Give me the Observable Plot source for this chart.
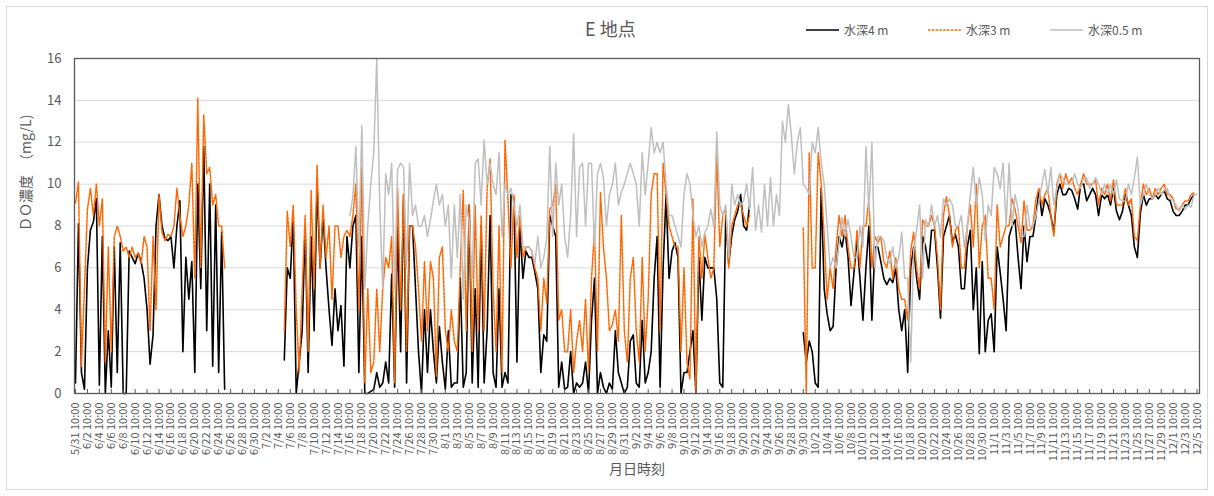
<!DOCTYPE html>
<html lang="ja">
<head>
<meta charset="utf-8">
<script src="https://cdn.jsdelivr.net/npm/d3@7"></script>
<script src="https://cdn.jsdelivr.net/npm/@observablehq/plot@0.6"></script>
<style>
  body { margin: 0; background: #fff; font-family: "Noto Sans CJK JP", "Noto Sans", sans-serif; }
  #chart { position: relative; width: 1214px; height: 496px; overflow: hidden; }
  #border { position: absolute; left: 6px; top: 6px; width: 1200px; height: 482px; border: 1px solid #d9d9d9; pointer-events: none; }
  #head { position: relative; height: 45px; }
  #title { position: absolute; left: 585px; top: 15px; font-size: 18px; line-height: 26px; color: #595959; white-space: nowrap; }
  .key { position: absolute; top: 22px; display: flex; align-items: center; font-size: 12px; line-height: 16px; color: #595959; white-space: nowrap; }
  .key svg { margin-right: 5px; }
  #plot svg { display: block; }
</style>
</head>
<body>
<div id="chart">
  <div id="border"></div>
  <div id="head">
    <div id="title">E 地点</div>
  </div>
  <div id="plot"></div>
</div>
<script>
// DO concentration at station E, sampled every 12 hours from 5/31 10:00 to 12/5 10:00
const startTime = Date.UTC(2019, 4, 31, 10);
const stepHours = 12;
const seriesNames = ["水深4 m", "水深3 m", "水深0.5 m"];
const yTicks = [0, 2, 4, 6, 8, 10, 12, 14, 16];
const yLabel = "ＤＯ濃度　（mg/L)";
const xLabel = "月日時刻";

// 水深4 m
const depth4m = [
  0.5, 8.1, 1, 0.2, 6, 7.8, 8.2, 9.3, 0.4, 7.5, 0, 3, 0.3, 7, 1, 7.2, 0, 0, 6.8, 6.5,
  6.2, 6.7, 6.3, 5.5, 4, 1.4, 2.8, 8, 9.5, 8, 7.4, 7.3, 7.5, 6, 8, 9.2, 2, 6.5, 4.5, 6.3,
  1, 10, 5, 11.8, 3, 10, 1.3, 9, 1, 7.7, 0.2, null, null, null, null, null, null, null, null, null,
  null, null, null, null, null, null, null, null, null, null, 1.6, 6, 5.5, 8.5, 0, 1.5, 3, 8, 1, 7.5,
  3, 10, 6, 8.5, 6, 4, 2.3, 5, 3, 4.2, 1.3, 7.5, 6, 8, 8.5, 1, 7.5, 0, 0, 0.1,
  0.2, 1, 0.3, 0.5, 1.5, 0.5, 5.7, 0.3, 8, 2, 9.5, 0.5, 8, 8, 5, 2, 0, 4, 1, 4,
  2, 0.5, 3.2, 1.5, 0.2, 3, 0.3, 0.5, 0.5, 5.5, 0.3, 1, 9, 0.5, 5, 0.3, 8, 0.5, 3, 8.5,
  1, 0.3, 5, 0.3, 1, 0.5, 9.5, 9.3, 1.5, 8, 5.5, 6.8, 6.5, 6.5, 5.8, 5, 1, 2.8, 2.5, 8.5,
  8, 7.5, 0.3, 1.5, 0.2, 0.3, 2, 0, 0.5, 0.3, 0.5, 1.5, 0, 3.5, 5.5, 0, 1, 0.3, 0, 0.5,
  0.2, 3, 1, 0.5, 0, 0.3, 2.5, 2.8, 0.5, 0.3, 3.5, 0.5, 1, 2, 5.5, 7.5, 0.3, 6, 9.5, 5.5,
  6.8, 7.2, 6.5, 0, 1, 1, 2, 3, 0, 6.5, 3.5, 6.5, 6, 6, 6, 4.5, 0.5, 0.3, 8.5, 6.2,
  7.5, 8.3, 8.7, 9.5, 8, 7.8, 9, null, null, null, null, null, null, null, null, null, null, null, null,
  null, null, null, null, null, 2.9, 1.5, 2.5, 2, 0.5, 0.3, 9.8, 5, 3.8, 3, 3.2, 6, 7.5, 7, 7.8,
  6.5, 4.2, 5.8, 7.3, 5.5, 3.5, 6, 8, 3.5, 7, 7, 6.3, 5.5, 5.2, 5.5, 5.3, 6, 4, 3, 4,
  1, 6, 7, 5.5, 4.5, 7.5, 7, 6, 7.8, 7.8, 6, 3.6, 7.5, 8, 8.5, 7.2, 7.6, 7, 5, 5,
  7, 7.8, 4, 6, 1.9, 6.3, 2, 3.5, 3.8, 2, 7, 5.8, 4.5, 3, 7.5, 8, 8.3, 6.5, 5, 8,
  6.3, 7.5, 7.5, 8.5, 9.7, 8.5, 9.3, 9, 8.5, 7.7, 9.5, 10, 9.5, 9.5, 9.8, 9.7, 9.3, 8.8, 10, 10,
  9.2, 9.5, 9.8, 9.5, 8.5, 9.5, 9.3, 9.5, 9, 9.8, 8.7, 8.3, 8.7, 9.5, 9, 8.5, 7, 6.5, 8.6, 9.5,
  9, 9.3, 9.3, 9.5, 9.3, 9.5, 9.7, 9.3, 9.2, 8.7, 8.5, 8.5, 8.7, 9, 9, 9.3, 9.5
];

// 水深3 m
const depth3m = [
  9.1, 10.1, 1.3, 5, 8.8, 9.8, 8.5, 10, 8, 9.3, 1.5, 7, 2, 7.5, 8, 7.5, 6.8, 7, 6.5, 7,
  6.5, 6.7, 6.2, 7.5, 7, 3, 7.5, 4, 9.5, 7.7, 7.3, 7.6, 7.5, 8, 9.8, 8.5, 7.5, 8, 9, 11,
  5.5, 14.1, 6, 13.3, 10.5, 10.8, 9, 9.5, 8, 8, 6, null, null, null, null, null, null, null, null, null,
  null, null, null, null, null, null, null, null, null, null, 3, 8.7, 7, 9, 4, 1, 5, 8.5, 2, 9.7,
  5, 10.9, 6, 9, 6.5, 8, 4.5, 8, 8, 6.5, 7.5, 7.8, 7.5, 8.5, 10, 4, 10.8, 0.5, 5, 1,
  1.5, 5, 2, 5, 6.5, 6, 7.5, 0.5, 9.8, 4, 9.5, 2, 8, 8, 7, 5, 2.5, 6.3, 3, 6.3,
  5.5, 0.8, 6.5, 7, 3, 2, 4, 2.5, 2, 6, 9.7, 3, 9, 2, 9, 3, 8.5, 3, 9.8, 11.2,
  5, 2, 8, 1, 12.1, 9.2, 6, 9.5, 6.5, 8.5, 6.5, 7, 7, 6.8, 6, 5.5, 3, 5.5, 4.3, 8.8,
  9, 10, 3.5, 4, 2, 2, 4, 1, 2.5, 3.5, 2, 4.5, 1, 5.5, 7.8, 2, 9.6, 7, 5.5, 3,
  3.3, 4, 2.5, 8.5, 3, 1.5, 5.5, 6.5, 3, 1.5, 6.5, 2, 4.5, 9.5, 10.5, 10.5, 3, 11, 9.5, 8,
  7.5, 7, 7, 2, 6, 1.5, 0.7, 9.3, 0, 7.5, 5.5, 7.6, 6.5, 5.5, 6, 11.5, 7, 8.5, 8.8, 6,
  8, 8.5, 9, 9, 8.5, 8, 8.5, null, null, null, null, null, null, null, null, null, null, null, null,
  null, null, null, null, null, 7.9, 0, 11.5, 6, 6, 11.5, 10, 7.5, 4.5, 6, 5, 7, 8.5, 7.5, 8.5,
  7, 6, 6, 7.8, 6, 8, 8, 9.3, 6, 7.5, 7.2, 7.5, 6.3, 6, 6.8, 5.5, 6.5, 5, 4.5, 4.5,
  3.5, 6.8, 7.7, 6, 5, 8.3, 8, 8, 8.5, 8, 6.5, 4, 8.5, 9.4, 8.5, 7, 7.8, 8, 6, 6,
  8, 9, 7, 10, 6, 8, 8.5, 5.5, 5.5, 4, 9, 7, 7.5, 8, 8, 9.3, 8.8, 8, 7.2, 9.2,
  7.8, 7.8, 8, 9.3, 9.8, 9, 9.5, 9.8, 8.5, 7.5, 10, 10.5, 9.8, 10.5, 10, 10.3, 9.8, 9.5, 10, 10.5,
  10, 10, 10, 10.2, 9, 9.8, 9.5, 10, 9.2, 10.2, 9, 9, 9, 9.8, 9, 9.3, 7.5, 7.3, 9, 10,
  9.5, 9.8, 9.3, 9.8, 9.5, 9.8, 10, 9.5, 9.5, 9.3, 8.8, 8.8, 9, 9.2, 9.2, 9.5, 9.6
];

// 水深0.5 m
const depth05m = [
  null, null, null, null, null, null, null, null, null, null, null, null, null, null, null, null, null, null, null, null,
  null, null, null, null, null, null, null, null, null, null, null, null, null, null, null, null, null, null, null, null,
  null, null, null, null, null, null, null, null, null, null, null, null, null, null, null, null, null, null, null, null,
  null, null, null, null, null, null, null, null, null, null, null, null, null, null, null, null, null, null, null, null,
  null, null, null, null, null, null, null, null, null, null, null, null, 8.5, 9.4, 11.8, 7, 12.8, 5, 8, 10,
  11.5, 16, 9, 5, 10.5, 9.5, 11, 5, 10.7, 11, 10.8, 6, 11, 8.5, 9, 8, 8, 8.5, 7.5, 8.3,
  9.2, 10, 9, 9.5, 8, 9, 5.5, 9, 6.5, 9.5, 4.5, 9, 8.2, 5.5, 11, 11.2, 9, 12.1, 10, 11,
  10, 9.5, 11.5, 7.5, 10, 9.5, 9.8, 9, 8, 9, 7, 7, 7, 6.8, 6.2, 7.5, 6, 6.5, 7.4, 11.8,
  7.5, 11, 9, 10, 7.5, 6.5, 8.5, 12.4, 7.5, 10.8, 11, 8, 11, 11, 7, 10.5, 11, 10.3, 8, 9.5,
  10, 11, 9, 9.6, 10, 10.5, 11, 10.5, 10, 8, 11.5, 9.5, 11, 12.7, 11.5, 12, 11.5, 12, 10, 8.5,
  8.5, 8, 7.5, 7, 9.5, 10.5, 10, 8.5, 7.5, 8, 7, 7.7, 8, 8.8, 8, 12.5, 9, 8.5, 9, 6.5,
  10, 9, 9.5, 9, 9.2, 10, 8.8, 10.8, 7.8, 9, 7.7, 10, 8, 10.3, 8, 9.5, 8.5, 13, 12, 13.8,
  12.3, 10.5, 12, 12.7, 10, 9.8, 9.5, 12, 11.5, 12.7, 11, 10, 8, 6, 6.5, 6, 7.2, 8.4, 7.5, 8.3,
  7.5, 6.5, 6.5, 8, 7, 11.8, 8.7, 12, 6, 7.5, 7.5, 7.3, 6.5, 6.2, 7, 6, 6.5, 7.7, 5.5, 5.5,
  1.5, 6.8, 7.8, 9, 5.5, 8.3, 8, 9, 8, 8.5, 7.5, 9.3, 9, 9.3, 9, 8, 8, 8.5, 7, 8,
  9.5, 10.8, 9, 10.3, 9.5, 7.3, 9, 8.5, 10.8, 10.5, 9.8, 11, 8, 11, 8, 9.5, 8.8, 7.5, 7.5, 9,
  8, 8, 8.5, 9.2, 10, 10.7, 9.5, 10.8, 9, 9.8, 10.5, 10.3, 10, 10, 10, 10.5, 10, 9.8, 10.3, 10.3,
  9.8, 10, 10.3, 10, 9.5, 10, 9.5, 10, 9.5, 10.2, 9.3, 9.2, 9.2, 10, 9.5, 10.3, 11.3, 9, 9.5, 10,
  9.5, 9.3, 9.5, 9.8, 9.5, 9.7, 9.8, 9.3, 9.2, 9, 8.7, 9, 8.8, 9, 8.9, 9.5, 9.5
];

// line styles for each depth, in drawing order
const styles = [
  {stroke: "#000000", strokeWidth: 1.6, dash: null},
  {stroke: "#ff6600", strokeWidth: 1.5, dash: "2.5,1.3"},
  {stroke: "#bfbfbf", strokeWidth: 1.5, dash: null}
];
const values = [depth4m, depth3m, depth05m];

const HOUR = 3600 * 1000;
const toRows = arr => arr.map((v, i) => ({t: new Date(startTime + i * stepHours * HOUR), v: v == null ? NaN : v}));

// category labels every 2 days at 10:00
const xTicks = d3.range(0, 189, 2).map(d => new Date(startTime + d * 24 * HOUR));
const fmt = d3.utcFormat("%-m/%-d %H:%M");

const fontFamily = '"Noto Sans CJK JP", "Noto Sans", sans-serif';

const chart = Plot.plot({
  width: 1214,
  height: 451,
  marginLeft: 74,
  marginRight: 15,
  marginTop: 13,
  marginBottom: 103,
  style: {fontFamily, fontSize: "11px", color: "#595959", background: "transparent", overflow: "visible"},
  x: {type: "utc", domain: [new Date(startTime - 4 * HOUR), new Date(startTime + 188 * 24 * HOUR + 10 * HOUR)]},
  y: {domain: [0, 16]},
  marks: [
    Plot.gridY(yTicks.filter(t => t > 0 && t < 16), {stroke: "#d9d9d9", strokeOpacity: 1}),
    ...values.map((arr, k) => Plot.line(toRows(arr), {
      x: "t", y: "v",
      stroke: styles[k].stroke,
      strokeWidth: styles[k].strokeWidth,
      strokeDasharray: styles[k].dash,
      strokeLinejoin: "round",
      curve: "linear"
    })),
    Plot.frame({stroke: "#595959", strokeWidth: 1.3}),
    Plot.ruleX(xTicks, {x: d => d, y1: 0, y2: 0, insetTop: -4, stroke: "#595959"}),
    Plot.axisY(yTicks, {tickSize: 0, tickPadding: 13, fontSize: 13, label: null}),
    Plot.axisX(xTicks, {tickSize: 0, tickPadding: 9, tickRotate: -90, tickFormat: fmt, fontSize: 11, label: null}),
    Plot.text([xLabel], {frameAnchor: "bottom", dy: 80, fontSize: 14, fill: "#595959"}),
    Plot.text([yLabel], {frameAnchor: "left", dx: -48, dy: 5, rotate: -90, fontSize: 14, fill: "#595959"})
  ]
});
document.getElementById("plot").appendChild(chart);

// legend row beside the title
const head = document.getElementById("head");
const keyLeft = [806, 928, 1050];
seriesNames.forEach((name, k) => {
  const item = document.createElement("div");
  item.className = "key";
  item.style.left = keyLeft[k] + "px";
  const s = styles[k];
  item.innerHTML = `<svg width="33" height="10"><line x1="0" y1="5" x2="33" y2="5" stroke="${s.stroke}" stroke-width="${s.strokeWidth}" ${s.dash ? `stroke-dasharray="${s.dash}"` : ""}/></svg><span>${name}</span>`;
  head.appendChild(item);
});
</script>
</body>
</html>
